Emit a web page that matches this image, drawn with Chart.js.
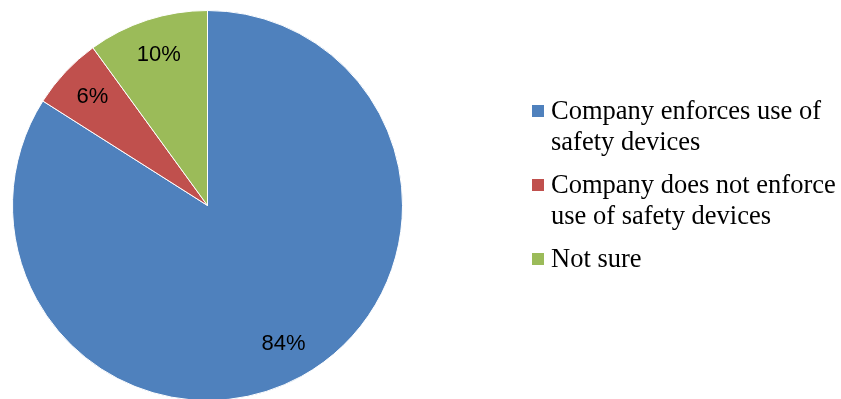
<!DOCTYPE html>
<html>
<head>
<meta charset="utf-8">
<script src="https://cdn.jsdelivr.net/npm/chart.js@4"></script>
<style>
  html, body { margin: 0; padding: 0; background: #fff; overflow: hidden; }
  #wrap { position: relative; width: 841px; height: 402px; }
</style>
</head>
<body>
<div id="wrap"><canvas id="pie"></canvas></div>
<script>
const labels = [
  "Company enforces use of safety devices",
  "Company does not enforce use of safety devices",
  "Not sure"
];
const values = [84, 6, 10];
const colors = ["#4F81BD", "#C0504D", "#9BBB59"];

// percentage labels inside the slices
const sliceLabels = {
  id: "sliceLabels",
  afterDatasetsDraw(chart) {
    const ctx = chart.ctx;
    const meta = chart.getDatasetMeta(0);
    const total = values.reduce((a, b) => a + b, 0);
    ctx.save();
    ctx.font = "22px 'Liberation Sans', Arial, sans-serif";
    ctx.fillStyle = "#000";
    ctx.textAlign = "center";
    ctx.textBaseline = "middle";
    meta.data.forEach((arc, i) => {
      const mid = (arc.startAngle + arc.endAngle) / 2;
      const r = arc.outerRadius * 0.81;
      const x = arc.x + Math.cos(mid) * r;
      const y = arc.y + Math.sin(mid) * r;
      ctx.fillText(Math.round(values[i] / total * 100) + "%", x, y);
    });
    ctx.restore();
  }
};

// legend on the right, wrapped like the original
const sideLegend = {
  id: "sideLegend",
  afterDraw(chart) {
    const ctx = chart.ctx;
    const left = 551, maxW = 290, lineH = 31, gap = 43;
    let y = 119;
    ctx.save();
    ctx.font = "26.5px 'Liberation Serif', 'Times New Roman', serif";
    ctx.textBaseline = "alphabetic";
    labels.forEach((text, i) => {
      ctx.fillStyle = colors[i];
      ctx.fillRect(532, y - 14, 12, 12);
      const words = text.split(" ");
      const lines = [];
      let cur = "";
      words.forEach(w => {
        const test = cur ? cur + " " + w : w;
        if (ctx.measureText(test).width > maxW && cur) {
          lines.push(cur);
          cur = w;
        } else {
          cur = test;
        }
      });
      lines.push(cur);
      ctx.fillStyle = "#000";
      lines.forEach((ln, j) => ctx.fillText(ln, left, y + j * lineH));
      y += (lines.length - 1) * lineH + gap;
    });
    ctx.restore();
  }
};

new Chart(document.getElementById("pie"), {
  type: "pie",
  data: {
    labels: labels,
    datasets: [{
      data: values,
      backgroundColor: colors,
      borderColor: "#fff",
      borderWidth: 1
    }]
  },
  options: {
    responsive: true,
    maintainAspectRatio: false,
    animation: false,
    layout: { padding: { left: 12, top: 10, right: 438, bottom: 1 } },
    plugins: {
      legend: { display: false },
      tooltip: { enabled: false }
    }
  },
  plugins: [sliceLabels, sideLegend]
});
</script>
</body>
</html>
